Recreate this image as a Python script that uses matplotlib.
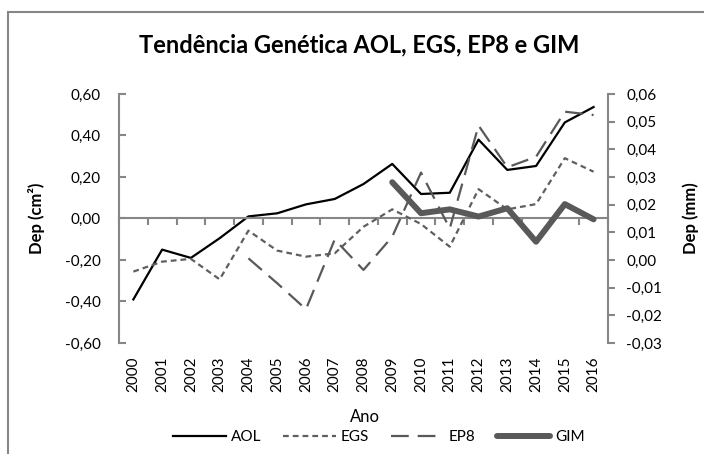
import numpy as np
import matplotlib
matplotlib.use("Agg")
import matplotlib.pyplot as plt
from matplotlib.patches import Rectangle
from matplotlib.ticker import FuncFormatter, FixedLocator

plt.rcParams['font.family'] = ['Lato', 'DejaVu Sans']

# dados
anos = list(range(2000, 2017))
aol = [-0.39, -0.15, -0.19, -0.095, 0.01, 0.025, 0.068, 0.094, 0.166,
       0.263, 0.118, 0.124, 0.38, 0.234, 0.253, 0.463, 0.537]
egs = [-0.0042, -0.0006, 0.0004, -0.0070, 0.0106, 0.0034, 0.0012, 0.0024,
       0.012, 0.0183, 0.013, 0.0048, 0.0256, 0.0183, 0.0202, 0.0368, 0.0319]
ep8 = [np.nan] * 4 + [0.0006, -0.0084, -0.0178, 0.0074, -0.0036, 0.0084,
                      0.0316, 0.0114, 0.0486, 0.0335, 0.0373, 0.0536, 0.0524]
gim = [np.nan] * 9 + [0.0281, 0.0169, 0.0183, 0.0157, 0.0187, 0.0066,
                      0.0202, 0.0147]

CINZA = '#868686'
ESCURO = '#595959'

fig = plt.figure(figsize=(7.04, 4.54), dpi=100)
ax = fig.add_axes([0.169, 0.2445, 0.6946, 0.5485])
ax2 = ax.twinx()

x = np.arange(len(anos))
l1, = ax.plot(x, aol, color='black', lw=1.6, label='AOL')
l2, = ax2.plot(x, egs, color='#5f5f5f', lw=1.6, dashes=(2.6, 1.8), label='EGS')
l3, = ax2.plot(x, ep8, color=ESCURO, lw=1.6, dashes=(8, 4), label='EP8')
l4, = ax2.plot(x, gim, color=ESCURO, lw=4.3, solid_capstyle='round',
               solid_joinstyle='round', label='GIM')

ax.set_xlim(-0.5, len(anos) - 0.5)
ax.set_ylim(-0.6, 0.6)
ax2.set_ylim(-0.03, 0.06)
ax.set_yticks(np.arange(-0.6, 0.61, 0.2))
ax2.set_yticks(np.arange(-0.03, 0.061, 0.01))

def virgula(v, _):
    v = round(v, 4)
    if v == 0:
        v = 0.0
    return ('%.2f' % v).replace('.', ',')

ax.yaxis.set_major_formatter(FuncFormatter(virgula))
ax2.yaxis.set_major_formatter(FuncFormatter(virgula))

for a in (ax, ax2):
    a.spines['top'].set_visible(False)
    a.patch.set_visible(False)
ax.spines['right'].set_visible(False)
ax2.spines['left'].set_visible(False)
ax2.spines['bottom'].set_visible(False)
ax.spines['left'].set_color(CINZA)
ax.spines['left'].set_linewidth(1.5)
ax2.spines['right'].set_color(CINZA)
ax2.spines['right'].set_linewidth(1.5)

# eixo horizontal no zero com marcas entre categorias
ax.spines['bottom'].set_position(('data', 0))
ax.spines['bottom'].set_color(CINZA)
ax.spines['bottom'].set_linewidth(1.5)
ax.xaxis.set_major_locator(FixedLocator(np.arange(-0.5, len(anos), 1)))
ax.tick_params(axis='x', direction='out', length=5, width=1.5, color=CINZA,
               labelbottom=False)

sec = ax.secondary_xaxis('bottom')
sec.set_xticks(x, labels=[str(a) for a in anos])
sec.spines['bottom'].set_visible(False)
sec.tick_params(length=0, rotation=90, labelsize=11, pad=10, colors='#000000')

ax.tick_params(axis='y', direction='in', length=5, width=1.5, color=CINZA,
               labelsize=11, pad=13)
ax2.tick_params(axis='y', direction='out', length=5, width=1.5, color=CINZA,
                labelsize=11, pad=8)

ax.set_ylabel('Dep (cm²)', fontsize=12, fontweight='bold')
ax.yaxis.set_label_coords(-0.151, 0.5)
ax2.set_ylabel('Dep (mm)', fontsize=12, fontweight='bold')
ax2.yaxis.set_label_coords(1.153, 0.5)

fig.text(0.51, 0.901, 'Tendência Genética AOL, EGS, EP8 e GIM', fontsize=17,
         fontweight='bold', ha='center', va='center')
fig.text(0.518, 0.0815, 'Ano', fontsize=12, ha='center', va='center')

fig.legend(handles=[l1, l2, l3, l4], loc='center', ncol=4,
           bbox_to_anchor=(0.538, 0.037), frameon=False, fontsize=11,
           handlelength=3.5, handletextpad=0.3, columnspacing=1.4)

fig.patches.append(Rectangle((8 / 704, -0.2), 1.2, 0.2 + 1 - 12 / 454,
                             transform=fig.transFigure, fill=False,
                             edgecolor=CINZA, lw=1.5))

fig.savefig('out.png', dpi=100)
